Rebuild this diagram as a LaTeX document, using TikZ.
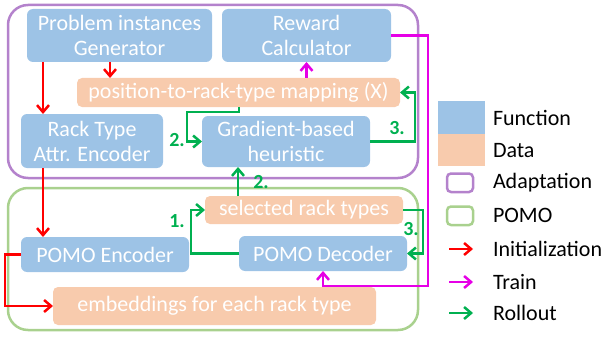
\documentclass[tikz,border=0pt]{standalone}
\usepackage{fontspec}
\setmainfont{Carlito}
\usetikzlibrary{arrows.meta,calc}
\definecolor{fnblue}{HTML}{9DC3E6}
\definecolor{dataor}{HTML}{F8CBAD}
\definecolor{adpurple}{HTML}{B482CC}
\definecolor{pomogreen}{HTML}{A9D18E}
\definecolor{arrred}{HTML}{FF0000}
\definecolor{arrmag}{HTML}{E600E6}
\definecolor{arrgreen}{HTML}{00B050}
\tikzset{
  every node/.style={inner sep=0pt,outer sep=0pt},
  txt/.style={font=\fontsize{22}{25}\selectfont},
  fnbox/.style={txt,fill=fnblue,rounded corners=6pt,text=white,align=center},
  databox/.style={txt,fill=dataor,rounded corners=5pt,text=white,align=center},
  tip/.style={-{Straight Barb[length=7pt,width=12pt,line width=2.5pt]}},
  redarr/.style={tip,draw=arrred,line width=2.5pt},
  magarr/.style={tip,draw=arrmag,line width=2.5pt},
  grnarr/.style={tip,draw=arrgreen,line width=2.5pt},
  steplabel/.style={text=arrgreen,font=\fontsize{20}{22}\selectfont\bfseries},
  legtxt/.style={txt,anchor=west,text=black}
}
\begin{document}
\begin{tikzpicture}[x=1pt,y=-1pt]
\useasboundingbox (0,0) rectangle (605,337);
% frames
\draw[adpurple,line width=2.5pt,rounded corners=20pt] (8,5) rectangle (418,178);
\draw[pomogreen,line width=2.5pt,rounded corners=20pt] (8,188) rectangle (418,330);
% nodes
\node[fnbox,minimum width=185pt,minimum height=53pt] (gen) at (119.5,35.5) {Problem instances\\Generator};
\node[fnbox,minimum width=169pt,minimum height=53pt] (rew) at (306.5,35.5) {Reward\\Calculator};
\node[databox,minimum width=323pt,minimum height=29pt] (map) at (238.5,92.5) {position-to-rack-type mapping (X)};
\node[fnbox,minimum width=142pt,minimum height=54pt] (rte) at (92,141) {Rack Type\\Attr. Encoder};
\node[fnbox,minimum width=168pt,minimum height=51pt] (grad) at (286,141.5) {Gradient-based\\heuristic};
\node[databox,minimum width=198pt,minimum height=28pt] (sel) at (304,210) {selected rack types};
\node[fnbox,minimum width=168pt,minimum height=35pt] (enc) at (105,254.5) {POMO Encoder};
\node[fnbox,minimum width=168pt,minimum height=35pt] (dec) at (323,253.5) {POMO Decoder};
\node[databox,minimum width=323pt,minimum height=38pt] (emb) at (214.5,306) {embeddings for each rack type};
% red arrows
\draw[redarr] (gen.south -| 43,0) -- (rte.north -| 43,0);
\draw[redarr] (gen.south -| 110,0) -- (map.north -| 110,0);
\draw[redarr] (rte.south -| 43,0) -- (enc.north -| 43,0);
\draw[redarr] (enc.west) -- (5,254.5) |- (emb.west);
% magenta arrows
\draw[magarr] (map.north -| rew.south) -- (rew.south);
\draw[magarr] (rew.east) -| (428,286) -| (dec.south);
% green arrows
\draw[grnarr] (map.south -| 239,0) |- (187,112) |- (grad.west);
\draw[grnarr] (grad.east) -| ($(map.east)+(15,0)$) -- (map.east);
\draw[grnarr] (sel.north -| 238,0) -- (grad.south -| 238,0);
\draw[grnarr] (dec.west) -| ($(sel.west)+(-14,0)$) -- (sel.west);
\draw[grnarr] (sel.east) -- ++(20,0) |- (dec.east);
% step labels
\node[steplabel] (l2a) at (177,140) {2.};
\node[steplabel] (l3a) at (397,128) {3.};
\node[steplabel] (l2b) at (261,182) {2.};
\node[steplabel] (l1) at (177,221) {1.};
\node[steplabel] (l3b) at (411,229) {3.};
% legend
\fill[fnblue] (438,101) rectangle (485,133.5);
\fill[dataor] (438,133.5) rectangle (485,166);
\node[legtxt] (lf) at (493,118) {Function};
\node[legtxt] (ld) at (493,151) {Data};
\draw[adpurple,line width=2.5pt,rounded corners=4pt] (447,173.5) rectangle (473,192);
\node[legtxt] (la) at (493,183) {Adaptation};
\draw[pomogreen,line width=2.5pt,rounded corners=4pt] (447,206.5) rectangle (473,225);
\node[legtxt] (lp) at (493,215) {POMO};
\coordinate (ri0) at (449,249); \coordinate (ri1) at (473,249);
\draw[redarr] (ri0) -- (ri1);
\node[legtxt] (li) at (493,249) {Initialization};
\coordinate (mt0) at (449,282); \coordinate (mt1) at (473,282);
\draw[magarr] (mt0) -- (mt1);
\node[legtxt] (lt) at (493,282) {Train};
\coordinate (gr0) at (449,313); \coordinate (gr1) at (473,313);
\draw[grnarr] (gr0) -- (gr1);
\node[legtxt] (lr) at (493,313) {Rollout};
\end{tikzpicture}
\end{document}
